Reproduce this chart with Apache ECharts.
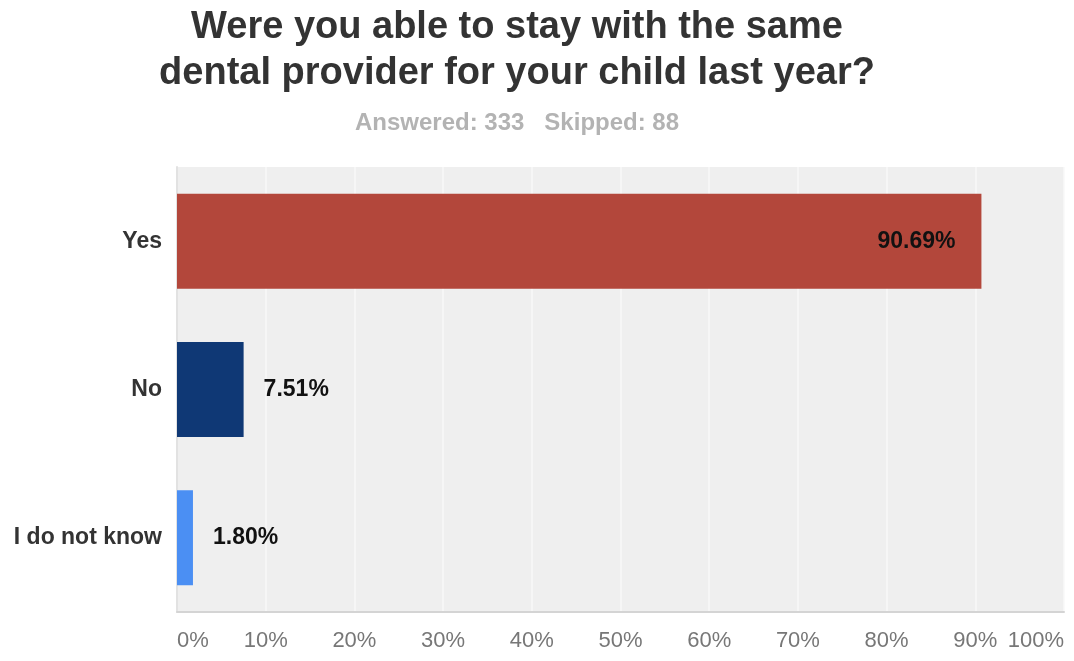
<!DOCTYPE html>
<html>
<head>
<meta charset="utf-8">
<script src="https://cdn.jsdelivr.net/npm/echarts@6/dist/echarts.min.js"></script>
<style>
  html, body { margin: 0; padding: 0; background: #ffffff; }
  #chart { width: 1074px; height: 661px; }
</style>
</head>
<body>
<div id="chart"></div>
<script>
// Survey question answers and their shares (percent)
const categories = ['Yes', 'No', 'I do not know'];
const percents = [90.69, 7.51, 1.80];
const barColors = ['#b3473b', '#0f3875', '#4b8ff3'];
const tickValues = [0, 10, 20, 30, 40, 50, 60, 70, 80, 90, 100];

const titleText = 'Were you able to stay with the same\ndental provider for your child last year?';
const subText = 'Answered: 333   Skipped: 88';

const chart = echarts.init(document.getElementById('chart'), null, { renderer: 'canvas' });

const barData = percents.map((v, i) => ({
  value: v,
  itemStyle: { color: barColors[i] },
  label: i === 0
    ? { position: 'insideRight', offset: [-21, 0] }
    : { position: 'right', distance: 20 }
}));

chart.setOption({
  animation: false,
  backgroundColor: '#ffffff',
  title: [
    {
      text: titleText,
      left: 512,
      top: 0,
      textAlign: 'center',
      textStyle: {
        fontFamily: 'Liberation Sans, Arial, sans-serif',
        fontWeight: 'bold',
        fontSize: 38,
        lineHeight: 46,
        color: '#333333'
      }
    },
    {
      text: subText,
      left: 512,
      top: 106,
      textAlign: 'center',
      textStyle: {
        fontFamily: 'Liberation Sans, Arial, sans-serif',
        fontWeight: 'bold',
        fontSize: 24,
        color: '#b3b3b3'
      }
    }
  ],
  grid: {
    left: 177,
    right: 10,
    top: 167,
    bottom: 49,
    show: true,
    backgroundColor: '#efefef',
    borderWidth: 0
  },
  xAxis: {
    type: 'value',
    min: 0,
    max: 100,
    interval: 10,
    axisLine: { show: true, lineStyle: { color: '#d4d4d4', width: 2 } },
    axisTick: { show: false },
    splitLine: { show: true, lineStyle: { color: '#f8f8f8', width: 1.5 } },
    axisLabel: {
      formatter: v => tickValues.includes(v) ? v + '%' : '',
      margin: 18,
      fontFamily: 'Liberation Sans, Arial, sans-serif',
      fontSize: 22,
      color: '#777777',
      alignMinLabel: 'left',
      alignMaxLabel: 'right'
    }
  },
  yAxis: {
    type: 'category',
    inverse: true,
    data: categories,
    axisLine: { show: true, lineStyle: { color: '#e2e2e2', width: 2 } },
    axisTick: { show: false },
    axisLabel: {
      margin: 15,
      fontFamily: 'Liberation Sans, Arial, sans-serif',
      fontWeight: 'bold',
      fontSize: 23,
      color: '#333333'
    }
  },
  series: [{
    type: 'bar',
    data: barData,
    barCategoryGap: '36%',
    label: {
      show: true,
      formatter: p => p.value.toFixed(2) + '%',
      fontFamily: 'Liberation Sans, Arial, sans-serif',
      fontWeight: 'bold',
      fontSize: 23,
      color: '#111111'
    }
  }]
});
</script>
</body>
</html>
